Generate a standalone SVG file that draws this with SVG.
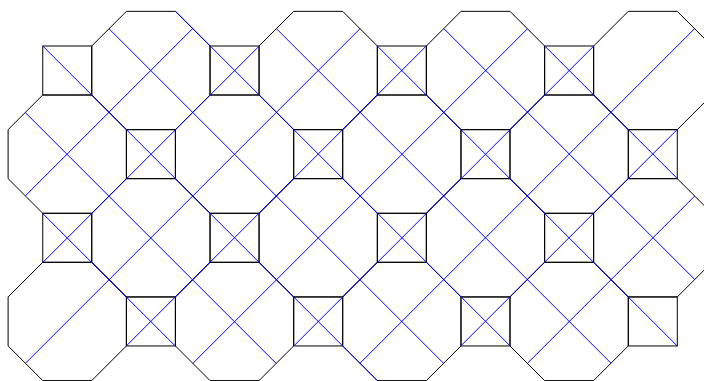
<svg xmlns="http://www.w3.org/2000/svg" width="704" height="381" viewBox="0 0 704 381">
<style>
.t{fill:none;stroke:#000;stroke-width:1}
.b{fill:none;stroke:#0000ff;stroke-width:1}
</style>
<defs>
<path id="oct" class="t" d="M-24.5,-59.148L24.5,-59.148L59.148,-24.5L59.148,24.5L24.5,59.148L-24.5,59.148L-59.148,24.5L-59.148,-24.5Z"/>
<rect id="sq" class="t" x="-24.5" y="-24.5" width="49" height="49"/>
</defs>
<rect width="704" height="381" fill="#fff"/>
<g id="octagons">
<use href="#oct" x="150.898" y="70.5"/>
<use href="#oct" x="318.195" y="70.5"/>
<use href="#oct" x="485.491" y="70.5"/>
<use href="#oct" x="652.787" y="70.5"/>
<use href="#oct" x="67.25" y="154.148"/>
<use href="#oct" x="234.546" y="154.148"/>
<use href="#oct" x="401.843" y="154.148"/>
<use href="#oct" x="569.139" y="154.148"/>
<use href="#oct" x="150.898" y="237.796"/>
<use href="#oct" x="318.195" y="237.796"/>
<use href="#oct" x="485.491" y="237.796"/>
<use href="#oct" x="652.787" y="237.796"/>
<use href="#oct" x="67.25" y="321.445"/>
<use href="#oct" x="234.546" y="321.445"/>
<use href="#oct" x="401.843" y="321.445"/>
<use href="#oct" x="569.139" y="321.445"/>
</g>
<g id="squares">
<use href="#sq" x="67.25" y="70.5"/>
<use href="#sq" x="234.546" y="70.5"/>
<use href="#sq" x="401.843" y="70.5"/>
<use href="#sq" x="569.139" y="70.5"/>
<use href="#sq" x="150.898" y="154.148"/>
<use href="#sq" x="318.195" y="154.148"/>
<use href="#sq" x="485.491" y="154.148"/>
<use href="#sq" x="652.787" y="154.148"/>
<use href="#sq" x="67.25" y="237.796"/>
<use href="#sq" x="234.546" y="237.796"/>
<use href="#sq" x="401.843" y="237.796"/>
<use href="#sq" x="569.139" y="237.796"/>
<use href="#sq" x="150.898" y="321.445"/>
<use href="#sq" x="318.195" y="321.445"/>
<use href="#sq" x="485.491" y="321.445"/>
<use href="#sq" x="652.787" y="321.445"/>
</g>
<g id="lines">
<path class="b" d="M42.75,213.5L175.398,346.149M25.426,112.676L276.37,363.621M42.75,46L380,383.25M109.074,28.824L443.667,363.417M175.398,11.148L509.991,345.741M276.371,28.621L610.963,363.214M377.343,46.093L677.287,346.038M443.667,28.417L694.611,279.361M544.639,45.889L677.287,178.537M192.722,28.528L25.426,195.824M259.046,46.204L42.75,262.5M360.019,28.731L25.426,363.324M426.343,45.907L126.398,345.852M527.315,28.935L192.722,363.528M593.639,46.111L293.695,346.056M694.611,28.639L360.019,363.232M677.287,129.463L460.991,345.76M694.611,196.139L527.315,363.436"/>
</g>
</svg>
